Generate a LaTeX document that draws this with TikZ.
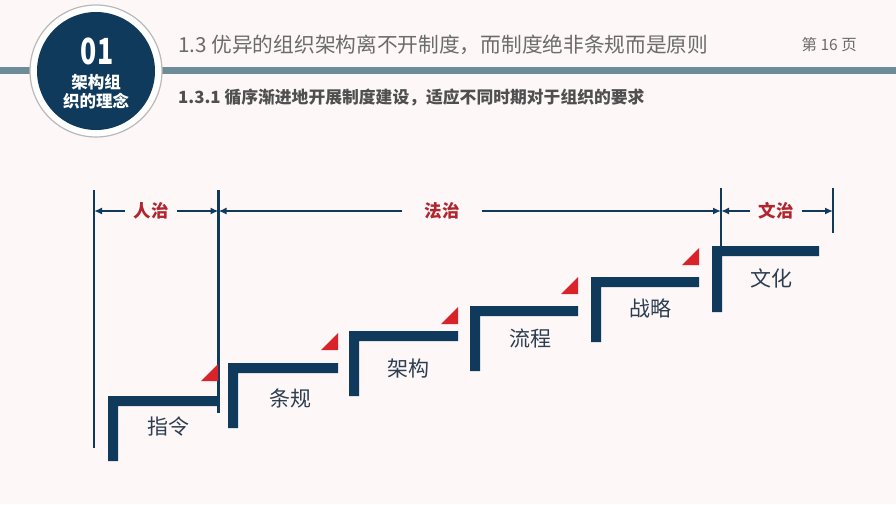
\documentclass[tikz,border=0pt]{standalone}
\usepackage{fontspec}
\setmainfont{Noto Sans CJK SC}
\usepackage{tikz}
\usetikzlibrary{positioning,arrows.meta}
\definecolor{pagebg}{HTML}{FDF7F7}
\definecolor{navy}{HTML}{0F3A5C}
\definecolor{barblue}{HTML}{6E8B99}
\definecolor{flagred}{HTML}{D8232A}
\definecolor{phasered}{HTML}{B0262E}
\definecolor{steptext}{HTML}{2C3E50}
\definecolor{titlegray}{HTML}{6B6B6B}
\definecolor{subgray}{HTML}{4F4F4F}

\begin{document}
\begin{tikzpicture}[
  x=1pt,y=-1pt,
  stepbar/.style={
    fill=navy,
    draw=none
  },
  flag/.style={
    fill=flagred,
    draw=none
  },
  steplabel/.style={
    text=steptext,
    inner sep=0pt,
    font=\fontsize{21}{21}\selectfont
  },
  phase/.style={
    text=phasered,
    inner ysep=0pt,
    inner xsep=8pt,
    font=\bfseries\fontsize{17.5}{17.5}\selectfont
  },
  tick/.style={
    draw=navy,
    line width=2.2pt
  },
  dim/.style={
    draw=navy,
    line width=1.8pt,
    -{Latex[length=8pt,width=7pt]}
  }
]
\useasboundingbox (0,0) rectangle (896,504);
\fill[pagebg] (0,0) rectangle (896,504);

\fill[barblue] (0,67) rectangle (896,74);
\draw[draw=gray!55, fill=white, line width=1.2pt] (96,71) circle[radius=66];
\fill[navy] (96,71) circle[radius=59];
\node[text=white, xscale=0.74, font=\bfseries\fontsize{36}{36}\selectfont] (num) at (97,51) {01};
\node[text=white, font=\bfseries\fontsize{16.5}{16.5}\selectfont] (topic1) at (96,82) {架构组};
\node[text=white, font=\bfseries\fontsize{16.5}{16.5}\selectfont] (topic2) at (96,101) {织的理念};

\node[anchor=west, text=titlegray, inner sep=0pt, font=\fontsize{20.7}{20.7}\selectfont] (title) at (178,45) {1.3 优异的组织架构离不开制度，而制度绝非条规而是原则};
\node[anchor=east, text=titlegray, inner sep=0pt, font=\fontsize{15.5}{15.5}\selectfont] (page) at (857,45) {第 16 页};
\node[anchor=west, text=subgray, inner sep=0pt, font=\bfseries\fontsize{16.8}{16.8}\selectfont] (subtitle) at (178,97) {1.3.1 循序渐进地开展制度建设，适应不同时期对于组织的要求};

\coordinate (l1top) at (94,190);
\coordinate (l1bot) at (94,448);
\coordinate (l2top) at (218.5,190);
\coordinate (l2bot) at (218.5,413);
\coordinate (l3top) at (721,188);
\coordinate (l3bot) at (721,291);
\coordinate (l4top) at (833,188);
\coordinate (l4bot) at (833,233);
\draw[tick] (l1top) -- (l1bot);
\draw[tick] (l2top) -- (l2bot);
\draw[tick] (l3top) -- (l3bot);
\draw[tick] (l4top) -- (l4bot);

\node[phase] (renzhi) at (151,211) {人治};
\node[phase, inner xsep=22pt] (fazhi) at (442,211) {法治};
\node[phase] (wenzhi) at (776,211) {文治};
\draw[dim] (renzhi.west) -- (renzhi.west -| l1top);
\draw[dim] (renzhi.east) -- (renzhi.east -| l2top);
\draw[dim] (fazhi.west) -- (fazhi.west -| l2top);
\draw[dim] (fazhi.east) -- (fazhi.east -| l3top);
\draw[dim] (wenzhi.west) -- (wenzhi.west -| l3top);
\draw[dim] (wenzhi.east) -- (wenzhi.east -| l4top);

\fill[stepbar] (108,396) -- ++(110,0) -- ++(0,10) -- ++(-100,0) -- ++(0,55) -- ++(-10,0) -- cycle;
\fill[stepbar] (228,363) -- ++(110,0) -- ++(0,10) -- ++(-100,0) -- ++(0,55) -- ++(-10,0) -- cycle;
\fill[stepbar] (349,331) -- ++(109,0) -- ++(0,10) -- ++(-99,0) -- ++(0,55) -- ++(-10,0) -- cycle;
\fill[stepbar] (470,306) -- ++(108,0) -- ++(0,10) -- ++(-98,0) -- ++(0,55) -- ++(-10,0) -- cycle;
\fill[stepbar] (591,277) -- ++(108,0) -- ++(0,10) -- ++(-98,0) -- ++(0,55) -- ++(-10,0) -- cycle;
\fill[stepbar] (712,246) -- ++(107,0) -- ++(0,10) -- ++(-97,0) -- ++(0,56) -- ++(-10,0) -- cycle;

\fill[flag] (201,381) -- (218,381) -- (218,364) -- cycle;
\fill[flag] (321,350) -- (338,350) -- (338,333) -- cycle;
\fill[flag] (441,324) -- (458,324) -- (458,307) -- cycle;
\fill[flag] (561,294) -- (578,294) -- (578,277) -- cycle;
\fill[flag] (682,265) -- (699,265) -- (699,248) -- cycle;

\node[steplabel] (zhiling) at (168,427) {指令};
\node[steplabel] (tiaogui) at (290,398) {条规};
\node[steplabel] (jiagou) at (408,369) {架构};
\node[steplabel] (liucheng) at (530,338) {流程};
\node[steplabel] (zhanlue) at (650,308) {战略};
\node[steplabel] (wenhua) at (771,278) {文化};
\end{tikzpicture}
\end{document}
